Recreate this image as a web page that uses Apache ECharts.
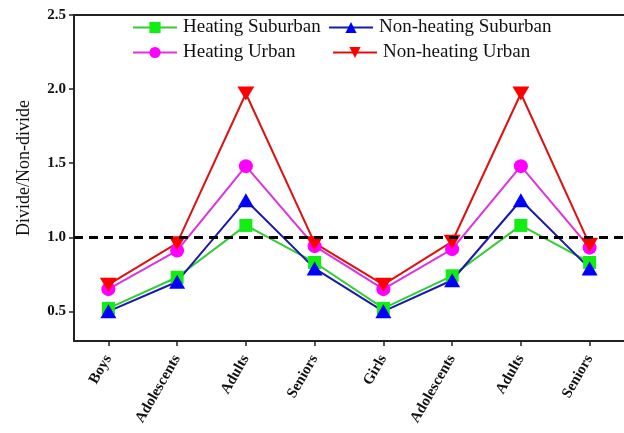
<!DOCTYPE html>
<html>
<head>
<meta charset="utf-8">
<script src="https://cdn.jsdelivr.net/npm/echarts@6/dist/echarts.min.js"></script>
<style>html,body{margin:0;padding:0;background:#fff;}#c{width:624px;height:433px;}</style>
</head>
<body>
<div id="c"></div>
<script>
var categories = ['Boys','Adolescents','Adults','Seniors','Girls','Adolescents','Adults','Seniors'];
var heatingSuburban    = [0.52, 0.73, 1.08, 0.83, 0.52, 0.74, 1.08, 0.83];
var nonHeatingSuburban = [0.50, 0.70, 1.25, 0.79, 0.50, 0.71, 1.25, 0.79];
var heatingUrban       = [0.65, 0.91, 1.48, 0.94, 0.65, 0.92, 1.48, 0.93];
var nonHeatingUrban    = [0.68, 0.96, 1.97, 0.96, 0.68, 0.97, 1.97, 0.95];
var yTicks = [0.5, 1.0, 1.5, 2.0, 2.5];
var refLine = 1.0;

var serif = 'Liberation Serif';
var chart = echarts.init(document.getElementById('c'));

function legendAt(name, left, top) {
  return {
    data: [name], left: left, top: top, padding: 0,
    itemWidth: 44, itemHeight: 14, orient: 'horizontal',
    textStyle: {fontFamily: serif, fontSize: 19, color: '#111', padding: [0,0,0,1]}
  };
}

chart.setOption({
  animation: false,
  backgroundColor: '#fff',
  legend: [
    legendAt('Heating Suburban', 132, 18),
    legendAt('Non-heating Suburban', 328, 18),
    legendAt('Heating Urban', 132, 43),
    legendAt('Non-heating Urban', 332, 43)
  ],
  grid: {left: 74, top: 15, width: 553, height: 326, show: false},
  xAxis: [{
    type: 'category', data: categories, boundaryGap: true,
    axisLine: {show: true, lineStyle: {color: '#222', width: 2}},
    axisTick: {show: true, alignWithLabel: true, length: 5, lineStyle: {color: '#222', width: 1.5}},
    axisLabel: {rotate: 60, fontFamily: serif, fontWeight: 'bold', fontSize: 15, color: '#111', margin: 15, interval: 0},
    splitLine: {show: false}
  }, {
    type: 'category', data: categories, position: 'top', boundaryGap: true,
    axisLine: {show: true, lineStyle: {color: '#222', width: 2}},
    axisTick: {show: false}, axisLabel: {show: false}, splitLine: {show: false}
  }],
  yAxis: {
    type: 'value', min: 0.3, max: 2.5,
    name: 'Divide/Non-divide', nameLocation: 'middle', nameGap: 41, nameRotate: 90,
    nameTextStyle: {fontFamily: serif, fontSize: 18, color: '#111', padding: [0,0,0,20]},
    axisLine: {show: true, lineStyle: {color: '#222', width: 2}},
    axisTick: {show: true, length: 5, customValues: yTicks, lineStyle: {color: '#222', width: 1.5}},
    axisLabel: {customValues: yTicks, fontFamily: serif, fontWeight: 'bold', fontSize: 15, color: '#111', margin: 8,
      formatter: function (v) { return v.toFixed(1); }},
    splitLine: {show: false}
  },
  series: [
    {name: 'Heating Suburban', type: 'line', data: heatingSuburban, symbol: 'rect', symbolSize: 13,
      itemStyle: {color: '#11ee11'}, lineStyle: {color: '#33cc33', width: 2},
      markLine: {silent: true, symbol: 'none', label: {show: false},
        lineStyle: {color: '#000', type: [9, 6], width: 3}, data: [{yAxis: refLine}]}},
    {name: 'Non-heating Suburban', type: 'line', data: nonHeatingSuburban, symbol: 'triangle', symbolSize: [16, 14],
      itemStyle: {color: '#0000ff'}, lineStyle: {color: '#1a1aaa', width: 2}},
    {name: 'Heating Urban', type: 'line', data: heatingUrban, symbol: 'circle', symbolSize: 14,
      itemStyle: {color: '#ff00ff'}, lineStyle: {color: '#dd33dd', width: 2}},
    {name: 'Non-heating Urban', type: 'line', data: nonHeatingUrban, symbol: 'triangle', symbolRotate: 180, symbolSize: [17, 14],
      itemStyle: {color: '#ff0000'}, lineStyle: {color: '#dd1111', width: 2}}
  ]
});
</script>
</body>
</html>
